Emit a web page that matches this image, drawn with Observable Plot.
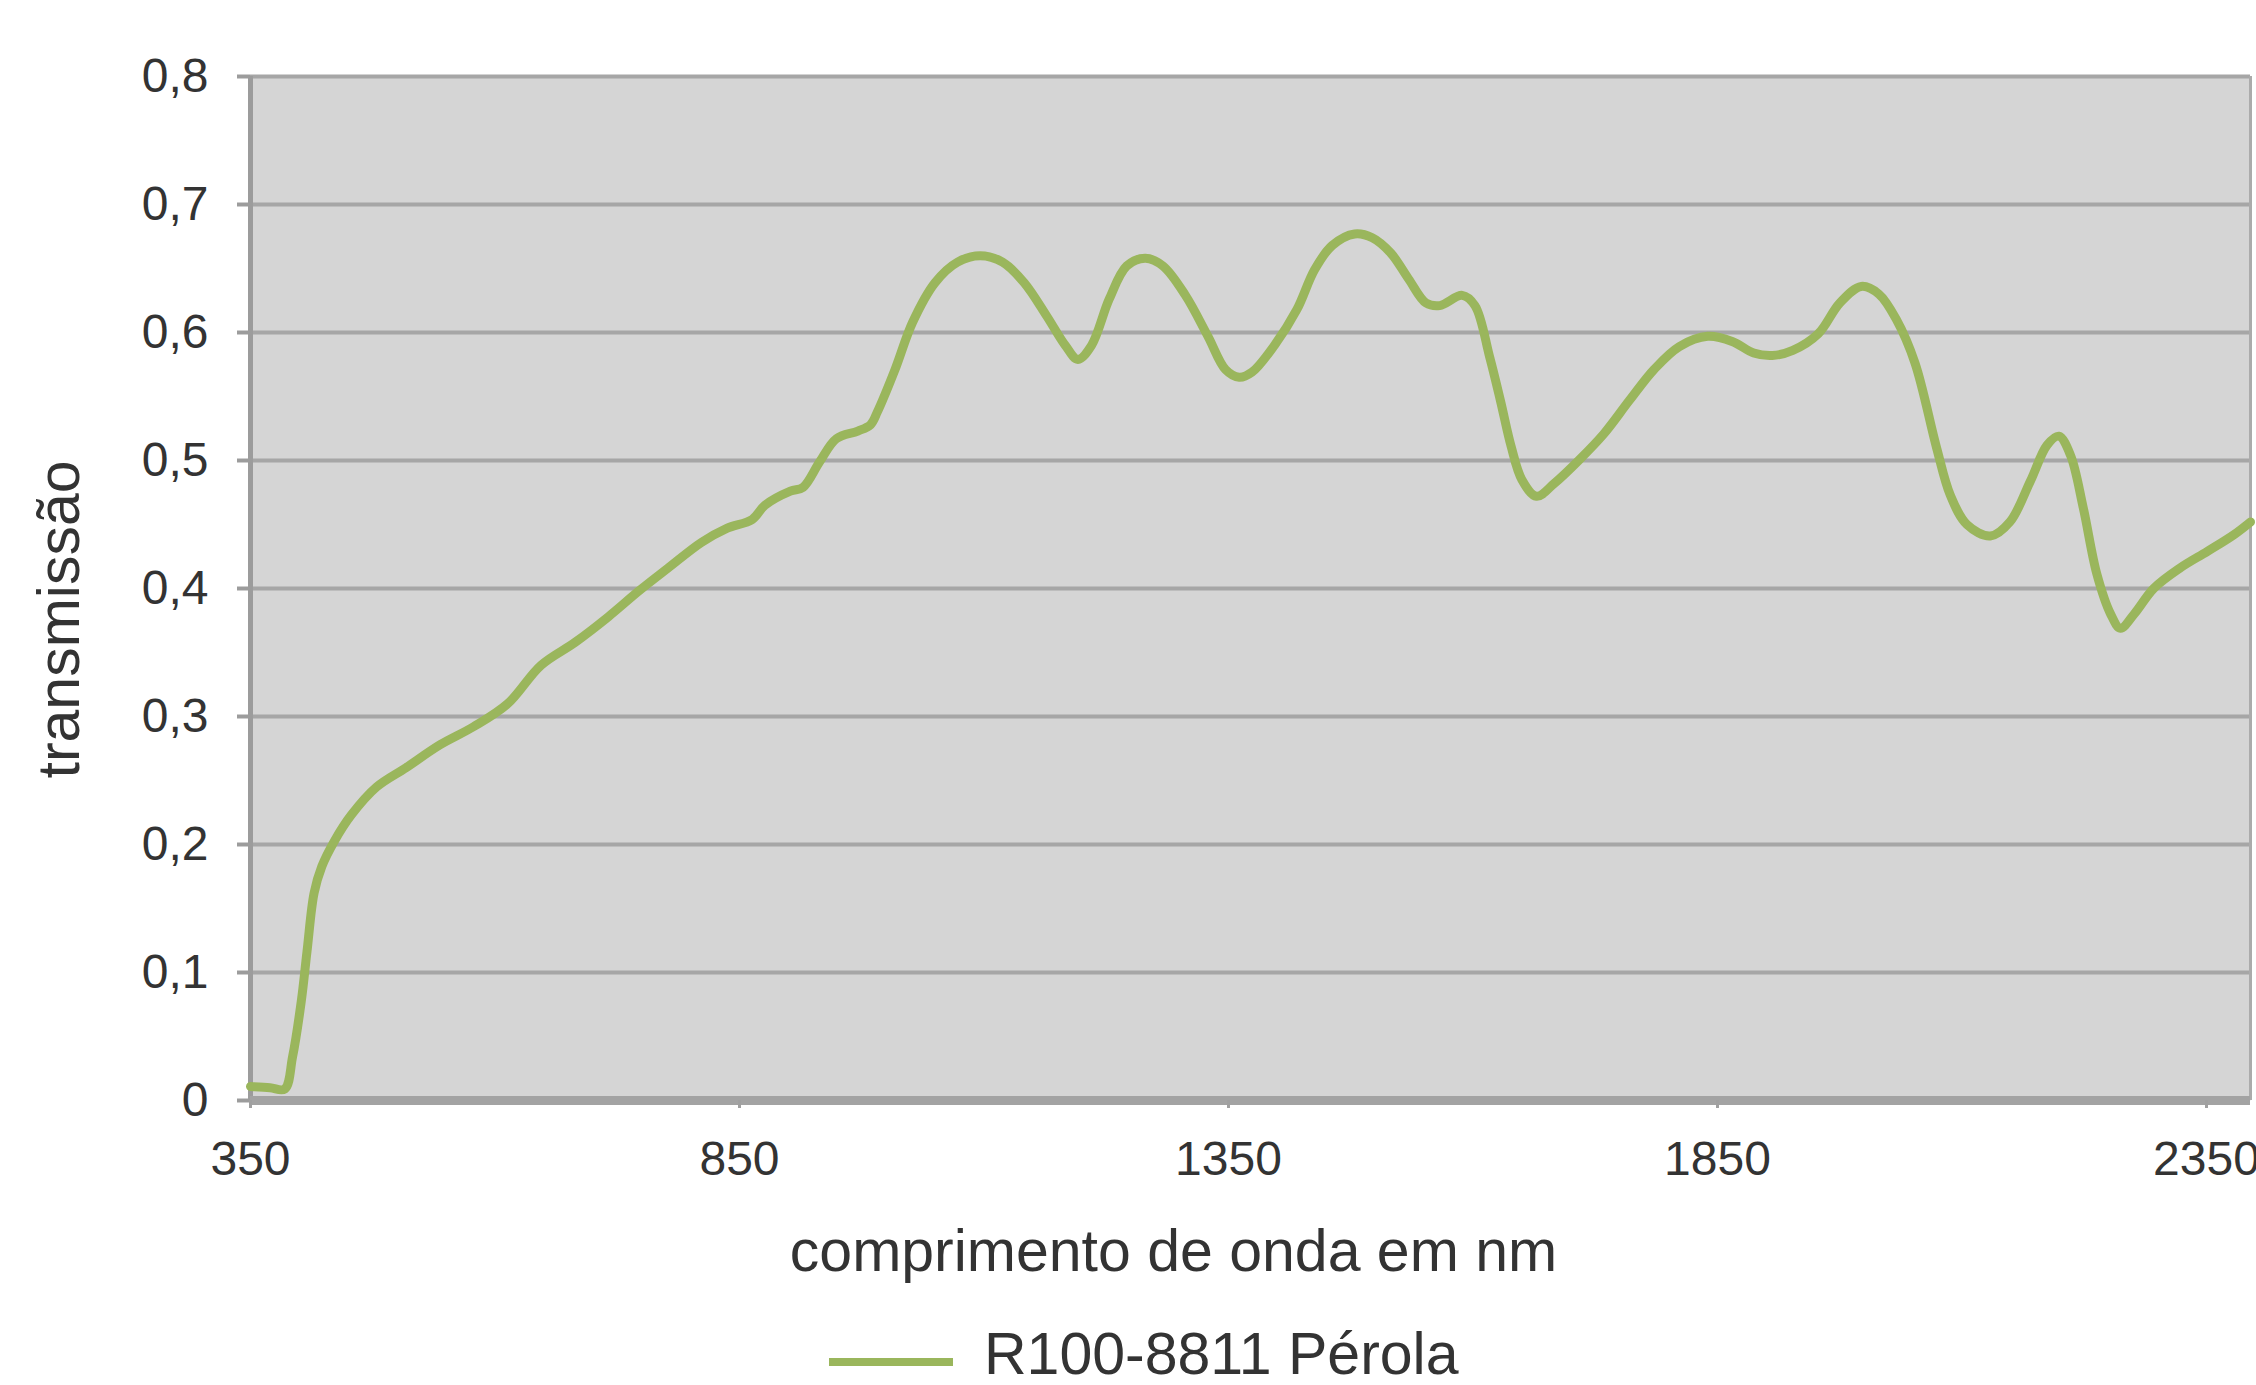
<!DOCTYPE html>
<html><head><meta charset="utf-8">
<script src="https://cdn.jsdelivr.net/npm/d3@7"></script>
<script src="https://cdn.jsdelivr.net/npm/@observablehq/plot@0.6"></script>
<style>
html,body{margin:0;padding:0;background:#fff;overflow:hidden;width:2256px;height:1385px;position:relative;}
#chart{position:absolute;left:0;top:0;}
#swatch{position:absolute;left:829px;top:1358px;width:124px;height:8px;}
#legendText{position:absolute;left:984px;top:1326px;line-height:56px;font-size:59px;font-family:"Liberation Sans",Arial,sans-serif;color:#333;white-space:nowrap;}
</style></head><body>
<div id="chart"></div>
<div id="swatch"></div>
<div id="legendText"></div>
<script>
const wavelengths = [350,370,385,393,402,408,415,423,436,453,479,509,544,578,613,647,682,716,747,777,811,837,863,876,902,915,932,949,971,984,991,1009,1027,1050,1073,1096,1119,1141,1164,1183,1196,1210,1228,1246,1265,1283,1306,1329,1347,1361,1374,1397,1420,1438,1456,1479,1497,1516,1534,1552,1566,1589,1602,1617,1628,1639,1650,1665,1683,1708,1734,1760,1785,1811,1840,1865,1887,1906,1927,1953,1975,1997,2015,2033,2052,2074,2088,2105,2129,2149,2170,2187,2199,2211,2224,2238,2252,2262,2276,2296,2323,2351,2378,2395];
const transmission = [0.011,0.010,0.009,0.034,0.078,0.118,0.162,0.183,0.203,0.223,0.245,0.260,0.278,0.292,0.310,0.340,0.358,0.378,0.398,0.416,0.436,0.447,0.454,0.465,0.476,0.479,0.499,0.517,0.523,0.528,0.538,0.571,0.608,0.639,0.655,0.660,0.655,0.639,0.613,0.590,0.579,0.590,0.626,0.652,0.658,0.652,0.629,0.597,0.571,0.565,0.569,0.590,0.618,0.649,0.668,0.677,0.674,0.662,0.642,0.623,0.621,0.629,0.621,0.581,0.547,0.511,0.485,0.472,0.482,0.500,0.521,0.547,0.571,0.589,0.597,0.593,0.584,0.582,0.586,0.599,0.623,0.636,0.630,0.610,0.576,0.510,0.473,0.450,0.441,0.452,0.484,0.512,0.519,0.504,0.463,0.411,0.380,0.369,0.380,0.400,0.416,0.429,0.442,0.452];
const yTicks = [0,0.1,0.2,0.3,0.4,0.5,0.6,0.7,0.8];
const yTickLabels = ["0","0,1","0,2","0,3","0,4","0,5","0,6","0,7","0,8"];
const xTicks = [350,850,1350,1850,2350];
const xTickLabels = ["350","850","1350","1850","2350"];
const seriesName = "R100-8811 Pérola";
const xTitle = "comprimento de onda em nm";
const yTitle = "transmissão";
const lineColor = "#9ab65c";

const data = wavelengths.map((w, i) => ({w, t: transmission[i]}));

const chart = Plot.plot({
  width: 2256,
  height: 1290,
  marginLeft: 250,
  marginRight: 6,
  marginTop: 76,
  marginBottom: 190,
  style: {fontFamily: "'Liberation Sans', Arial, sans-serif", fontSize: "48px", color: "#333", background: "transparent", overflow: "visible"},
  x: {domain: [350, 2395]},
  y: {domain: [0, 0.8]},
  marks: [
    Plot.frame({fill: "#d5d5d5", stroke: "none"}),
    Plot.gridY(yTicks, {stroke: "#a6a6a6", strokeOpacity: 1, strokeWidth: 4}),
    Plot.ruleX([2395], {stroke: "#ababab", strokeWidth: 3}),
    Plot.ruleX([350], {stroke: "#9c9c9c", strokeWidth: 5}),
    Plot.ruleY([0], {stroke: "#a3a3a3", strokeWidth: 9}),
    Plot.axisY(yTicks, {tickFormat: d => yTickLabels[yTicks.indexOf(d)], tickSize: 13, tickPadding: 29, stroke: "#9c9c9c", strokeWidth: 4, fill: "#333", label: null}),
    Plot.axisX(xTicks, {tickFormat: d => xTickLabels[xTicks.indexOf(d)], tickSize: 8, tickPadding: 32, stroke: "#a0a0a0", strokeWidth: 3, fill: "#333", label: null}),
    Plot.line(data, {x: "w", y: "t", stroke: lineColor, strokeWidth: 9, curve: "catmull-rom"}),
    Plot.text([xTitle], {frameAnchor: "bottom", textAnchor: "middle", dx: -77, dy: 170, fontSize: 59, fill: "#333"}),
    Plot.text([yTitle], {frameAnchor: "left", textAnchor: "middle", lineAnchor: "middle", rotate: -90, dx: -190, dy: 31, fontSize: 59, fill: "#333"})
  ]
});
document.getElementById("chart").appendChild(chart);
document.getElementById("swatch").style.background = lineColor;
document.getElementById("legendText").textContent = seriesName;
</script>
</body></html>
